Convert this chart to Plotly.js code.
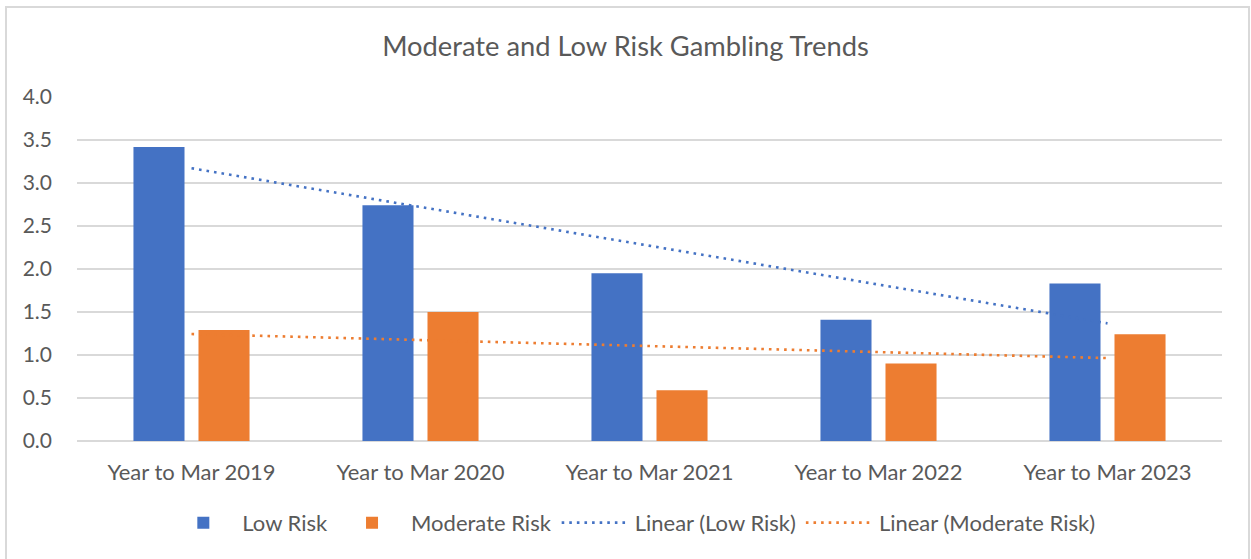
<!DOCTYPE html>
<html>
<head>
<meta charset="utf-8">
<script src="https://cdn.plot.ly/plotly-3.0.1.min.js"></script>
<style>
html,body{margin:0;padding:0;background:#fff;}
#chart{width:1251px;height:559px;}
</style>
</head>
<body>
<div id="chart"></div>
<script>
const categories = ["Year to Mar 2019","Year to Mar 2020","Year to Mar 2021","Year to Mar 2022","Year to Mar 2023"];
const lowRisk = [3.42, 2.74, 1.95, 1.41, 1.83];
const moderateRisk = [1.29, 1.50, 0.59, 0.90, 1.24];
const yTicks = [0, 0.5, 1.0, 1.5, 2.0, 2.5, 3.0, 3.5, 4.0];

function linearFit(vals){
  const n = vals.length;
  const xs = vals.map((_, i) => i + 1);
  const mx = xs.reduce((a,b)=>a+b,0)/n;
  const my = vals.reduce((a,b)=>a+b,0)/n;
  let num = 0, den = 0;
  for (let i=0;i<n;i++){ num += (xs[i]-mx)*(vals[i]-my); den += (xs[i]-mx)*(xs[i]-mx); }
  const slope = num/den, intercept = my - slope*mx;
  return xs.map(x => intercept + slope*x);
}

const BLUE = "#4472C4", ORANGE = "#ED7D31", TXT = "#595959", GRID = "#D9D9D9";
const FONT = "Lato, 'Open Sans', sans-serif";

const traces = [
  {type:"bar", name:"Low Risk", x:categories, y:lowRisk, marker:{color:BLUE}},
  {type:"bar", name:"Moderate Risk", x:categories, y:moderateRisk, marker:{color:ORANGE}},
  {type:"scatter", mode:"lines", name:"Linear (Low Risk)", x:categories, y:linearFit(lowRisk),
   line:{color:BLUE, width:2.6, dash:"2.6px,5px"}},
  {type:"scatter", mode:"lines", name:"Linear (Moderate Risk)", x:categories, y:linearFit(moderateRisk),
   line:{color:ORANGE, width:2.6, dash:"2.6px,5px"}}
];

const layout = {
  width:1251, height:559,
  margin:{l:77, r:29, t:97, b:118},
  paper_bgcolor:"#fff", plot_bgcolor:"#fff",
  font:{family:FONT, color:TXT, size:22},
  title:{text:"Moderate and Low Risk Gambling Trends", font:{family:FONT, size:27.3, color:TXT},
         x:0.5, xanchor:"center", y:0.917, yanchor:"middle"},
  barmode:"group", bargap:0.432, bargroupgap:0.215,
  xaxis:{type:"category", showgrid:false, zeroline:false, showline:false, ticks:"",
         ticklabelstandoff:16,
         tickfont:{family:FONT, size:22, color:TXT}, fixedrange:true},
  yaxis:{range:[0,4], tickvals:yTicks, ticktext:yTicks.map(v=>v.toFixed(1)),
         showgrid:true, gridcolor:GRID, gridwidth:1.5, zeroline:true, zerolinecolor:GRID, zerolinewidth:1.5,
         showline:false, ticks:"", ticklabelstandoff:24,
         tickfont:{family:FONT, size:21, color:TXT}},
  showlegend:true,
  legend:{orientation:"h", x:0.485, xanchor:"center", y:-0.238, yanchor:"middle",
          font:{family:FONT, size:22, color:TXT}, itemwidth:68, tracegroupgap:0,
          traceorder:"normal"},
  shapes:[{type:"rect", xref:"paper", yref:"paper", x0:-0.062, x1:1.0236, y0:-0.35, y1:1.2616,
           line:{color:GRID, width:2}, fillcolor:"rgba(0,0,0,0)", layer:"below"}]
};

Plotly.newPlot("chart", traces, layout, {displayModeBar:false, staticPlot:true});
</script>
</body>
</html>
